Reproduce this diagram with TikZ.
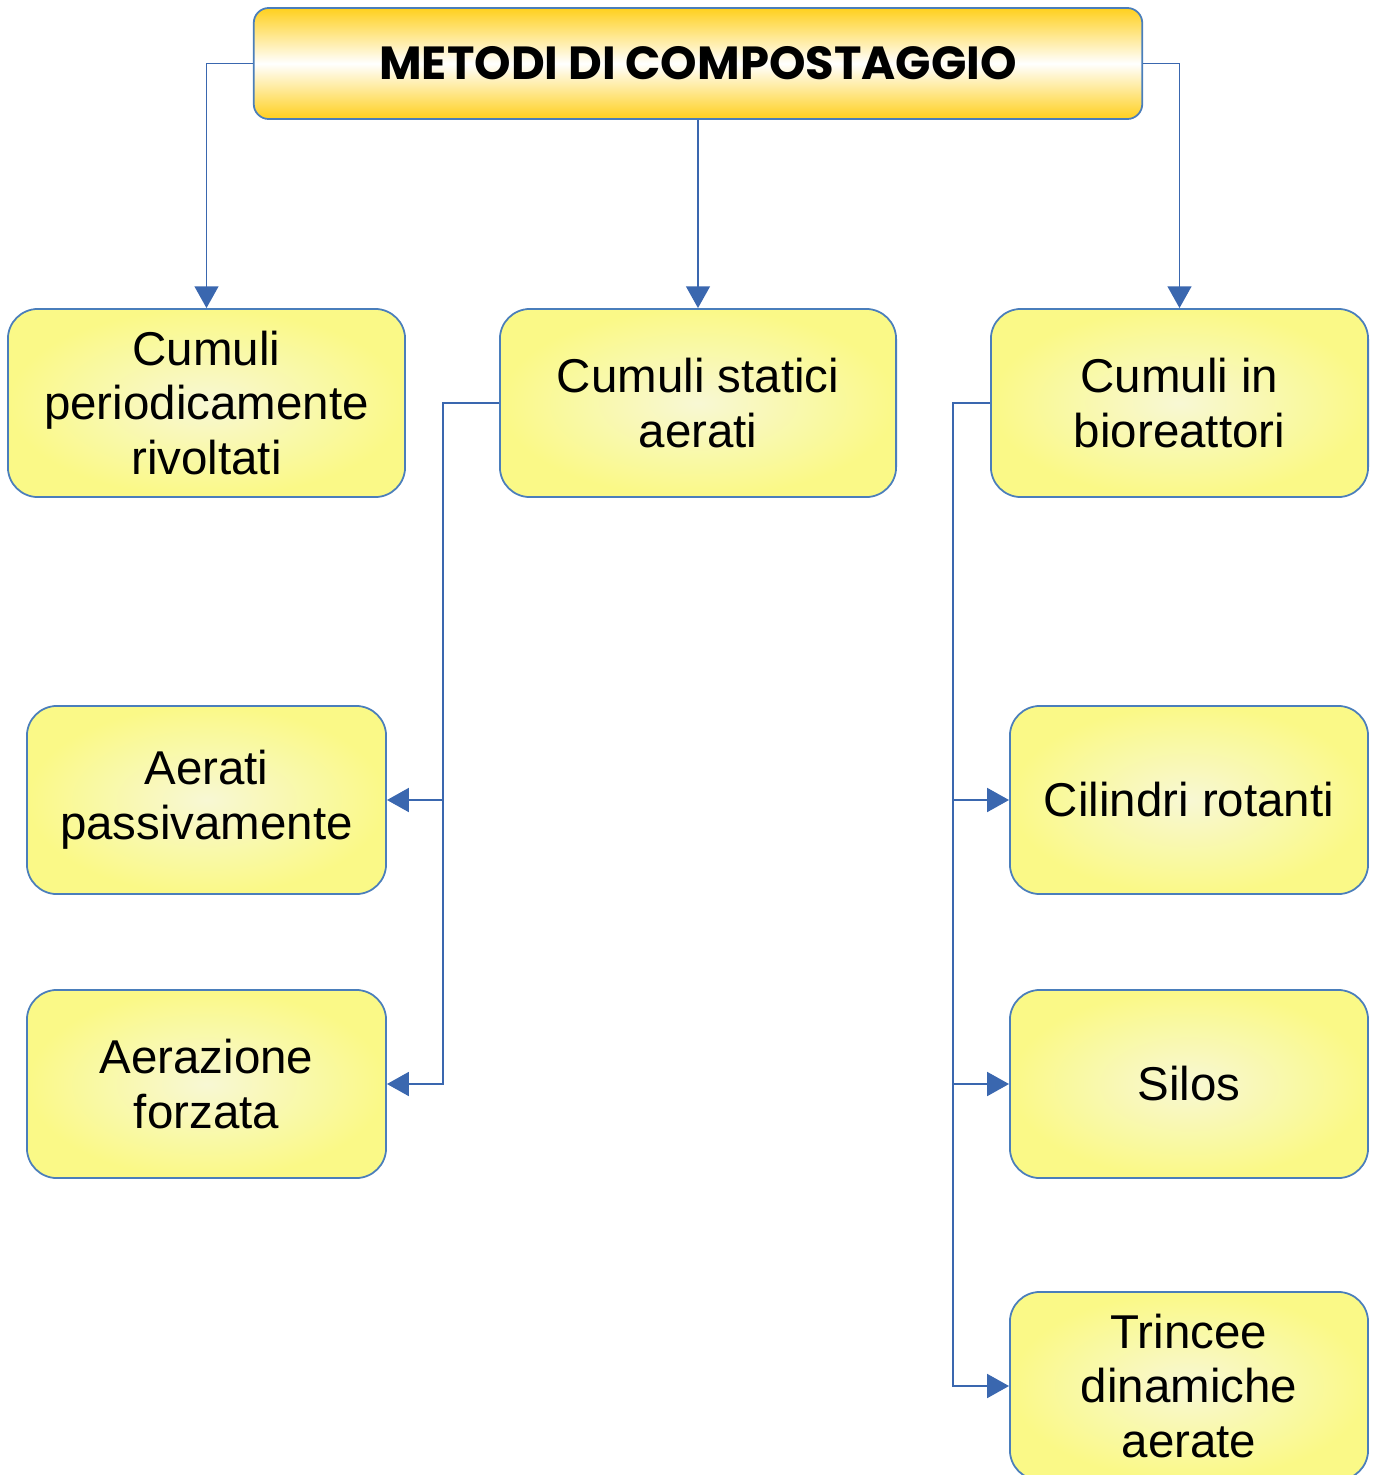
\documentclass[tikz,border=0pt]{standalone}
\usepackage{fontspec}
\setmainfont{Liberation Sans}
\newfontfamily\titlefont{Poppins}[BoldFont={* Bold}]
\usetikzlibrary{arrows.meta, calc, positioning}

\definecolor{boxline}{RGB}{74,126,187}
\definecolor{connblue}{RGB}{58,103,175}
\definecolor{boxyellow}{RGB}{250,249,135}
\definecolor{boxcentre}{RGB}{248,248,212}
\definecolor{titlegold}{RGB}{255,208,30}

\begin{document}
\begin{tikzpicture}[x=0.01cm,y=-0.01cm,
  every node/.style={font=\fontsize{13.5}{15.6}\selectfont, align=center, inner sep=0pt},
  methodbox/.style={draw=boxline, line width=0.5pt, rounded corners=0.3cm,
    shading=radial, inner color=boxcentre, outer color=boxyellow,
    minimum height=1.88cm},
  conn/.style={draw=connblue, line width=0.5pt, -{Triangle[length=6.2pt, width=6.8pt]}}]
\useasboundingbox (0,0) rectangle (1375,1475);

% titolo
\node[draw=boxline, line width=0.5pt, rounded corners=0.15cm,
  top color=titlegold, bottom color=titlegold, middle color=white,
  minimum width=8.88cm, minimum height=1.11cm,
  font=\titlefont\bfseries\fontsize{13.2}{16}\selectfont] (t) at (698,63.5) {METODI DI COMPOSTAGGIO};

% primo livello
\node[methodbox, minimum width=3.97cm] (a) at (206.5,403) {Cumuli\\periodicamente\\rivoltati};
\node[methodbox, minimum width=3.96cm] (b) at (698,403) {Cumuli statici\\aerati};
\node[methodbox, minimum width=3.77cm] (c) at (1179.5,403) {Cumuli in\\bioreattori};

% secondo livello
\node[methodbox, minimum width=3.59cm] (d) at (206.5,800) {Aerati\\passivamente};
\node[methodbox, minimum width=3.59cm] (e) at (206.5,1084) {Aerazione\\forzata};
\node[methodbox, minimum width=3.58cm] (f) at (1189,800) {Cilindri rotanti};
\node[methodbox, minimum width=3.58cm] (g) at (1189,1084) {Silos};
\node[methodbox, minimum width=3.58cm] (h) at (1189,1386) {Trincee\\dinamiche\\aerate};

\coordinate (bl) at (443,403);
\coordinate (cl) at (953,403);

\draw[conn] (t.west) -| (a.north);
\draw[conn] (t.south) -- (b.north);
\draw[conn] (t.east) -| (c.north);

\draw[conn] (b.west) -- (bl) |- (d.east);
\draw[conn] (bl) |- (e.east);

\draw[conn] (c.west) -- (cl) |- (f.west);
\draw[conn] (cl) |- (g.west);
\draw[conn] (cl) |- (h.west);
\end{tikzpicture}
\end{document}
